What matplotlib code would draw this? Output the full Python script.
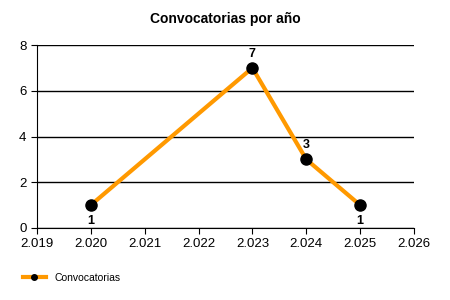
import matplotlib.pyplot as plt
from matplotlib.ticker import FuncFormatter

years = [2020, 2023, 2024, 2025]
counts = [1, 7, 3, 1]
series_name = 'Convocatorias'
title = 'Convocatorias por año'

plt.rcParams['font.family'] = ['Liberation Sans', 'DejaVu Sans']

fig = plt.figure(figsize=(4.5, 3), dpi=100)
ax = fig.add_axes([0.082, 0.24, 0.838, 0.61])

ax.plot(years, counts, color='#ff9900', lw=3, marker='o', ms=8,
        mfc='black', mec='black', label=series_name, zorder=3)

low = min(counts)
for x, y in zip(years, counts):
    if y == low:
        ax.annotate(str(y), (x, y), xytext=(0, -7), textcoords='offset points',
                    ha='center', va='top', fontsize=9, fontweight='bold')
    else:
        ax.annotate(str(y), (x, y), xytext=(0, 6), textcoords='offset points',
                    ha='center', va='bottom', fontsize=9, fontweight='bold')

ax.set_xlim(2019, 2026)
ax.set_ylim(0, 8)
ax.set_xticks(range(2019, 2027))
ax.set_yticks(range(0, 9, 2))
ax.xaxis.set_major_formatter(FuncFormatter(lambda v, p: f'{int(v) // 1000}.{int(v) % 1000:03d}'))
ax.grid(axis='y', color='black', lw=1)
ax.set_axisbelow(True)
ax.spines['top'].set_visible(False)
ax.spines['right'].set_visible(False)
ax.tick_params(labelsize=9.5, length=4, color='black')

ax.set_title(title, fontsize=10, fontweight='bold', pad=16)

fig.legend(loc='lower left', bbox_to_anchor=(0.03, 0.025), frameon=False,
           fontsize=7.5, handlelength=2.2, markerscale=0.5)

fig.savefig('out.png', dpi=100)
